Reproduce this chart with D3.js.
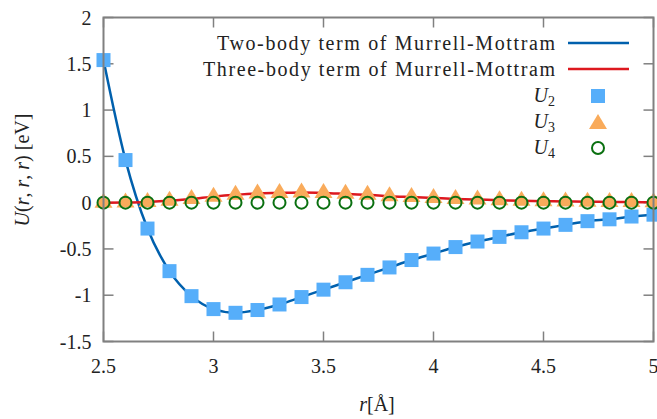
<!DOCTYPE html>
<html>
<head>
<meta charset="utf-8">
<script src="https://cdn.jsdelivr.net/npm/d3@7"></script>
<style>
  html body svg text, html body svg tspan { font-family: "Liberation Serif", "DejaVu Serif", serif !important; }
</style>
</head>
<body style="margin:0; background:#fff">
<script>
// r values (Angstrom)
const rVals = [2.5, 2.6, 2.7, 2.8, 2.9, 3.0, 3.1, 3.2, 3.3, 3.4, 3.5, 3.6, 3.7,
               3.8, 3.9, 4.0, 4.1, 4.2, 4.3, 4.4, 4.5, 4.6, 4.7, 4.8, 4.9, 5.0];
// two-body energies U2 (eV)
const u2 = [1.54, 0.46, -0.28, -0.74, -1.01, -1.15, -1.19, -1.16, -1.10, -1.02, -0.94, -0.86, -0.78,
            -0.70, -0.62, -0.55, -0.48, -0.42, -0.37, -0.32, -0.28, -0.24, -0.20, -0.18, -0.15, -0.13];
// three-body energies U3 (eV)
const u3 = [0.0, 0.002, 0.008, 0.02, 0.04, 0.065, 0.085, 0.10, 0.105, 0.11, 0.105, 0.095, 0.085,
            0.07, 0.06, 0.05, 0.04, 0.033, 0.026, 0.02, 0.016, 0.012, 0.01, 0.008, 0.006, 0.005];
// four-body energies U4 (eV)
const u4 = [0, 0, 0, 0, 0, 0, 0, 0, 0, 0, 0, 0, 0, 0, 0, 0, 0, 0, 0, 0, 0, 0, 0, 0, 0, 0];

const xTicks = [2.5, 3, 3.5, 4, 4.5, 5];
const yTicks = [-1.5, -1, -0.5, 0, 0.5, 1, 1.5, 2];

const width = 657, height = 419;
const margin = {left: 103.5, right: 3.5, top: 17.5, bottom: 77.5};
const fontFam = "Liberation Serif";
const textCol = "#222";

const svg = d3.select("body").append("svg")
    .attr("width", width)
    .attr("height", height);

const x = d3.scaleLinear().domain([2.5, 5]).range([margin.left, width - margin.right]);
const y = d3.scaleLinear().domain([-1.5, 2]).range([height - margin.bottom, margin.top]);

const axisColor = "#808080";
const tickLen = 10;

function txt(parent, xx, yy, size, anchor) {
    return parent.append("text").attr("x", xx).attr("y", yy)
        .attr("font-size", size)
        .attr("font-family", fontFam)
        .attr("fill", textCol).attr("text-anchor", anchor);
}

// ticks (mirrored, pointing inward)
const g = svg.append("g");
xTicks.forEach(t => {
    g.append("line").attr("x1", x(t)).attr("x2", x(t))
        .attr("y1", y(-1.5)).attr("y2", y(-1.5) - tickLen)
        .attr("stroke", axisColor).attr("stroke-width", 1.5);
    g.append("line").attr("x1", x(t)).attr("x2", x(t))
        .attr("y1", y(2)).attr("y2", y(2) + tickLen)
        .attr("stroke", axisColor).attr("stroke-width", 1.5);
    txt(g, x(t), y(-1.5) + 31, 20, "middle").text(t);
});
yTicks.forEach(t => {
    g.append("line").attr("x1", x(2.5)).attr("x2", x(2.5) + tickLen)
        .attr("y1", y(t)).attr("y2", y(t))
        .attr("stroke", axisColor).attr("stroke-width", 1.5);
    g.append("line").attr("x1", x(5)).attr("x2", x(5) - tickLen)
        .attr("y1", y(t)).attr("y2", y(t))
        .attr("stroke", axisColor).attr("stroke-width", 1.5);
    txt(g, x(2.5) - 12, y(t) + 7, 20, "end").text(t);
});

// lines
const line = (arr) => d3.line()
    .x((d, i) => x(rVals[i]))
    .y(d => y(d))
    .curve(d3.curveMonotoneX)(arr);

svg.append("path").attr("d", line(u2))
    .attr("fill", "none").attr("stroke", "#0060ad").attr("stroke-width", 2.5);
svg.append("path").attr("d", line(u3))
    .attr("fill", "none").attr("stroke", "#dd181f").attr("stroke-width", 2.5);

// markers
const sq = 14;
const triPath = "M0,-10L9,5L-9,5Z";
const sqColor = "#56aefa", triColor = "#f9ab5b", circColor = "#0a7010";

svg.append("g").selectAll("rect").data(u2).join("rect")
    .attr("x", (d, i) => x(rVals[i]) - sq / 2)
    .attr("y", d => y(d) - sq / 2)
    .attr("width", sq).attr("height", sq)
    .attr("fill", sqColor);

svg.append("g").selectAll("path").data(u3).join("path")
    .attr("d", triPath)
    .attr("transform", (d, i) => `translate(${x(rVals[i])},${y(d)})`)
    .attr("fill", triColor);

svg.append("g").selectAll("circle").data(u4).join("circle")
    .attr("cx", (d, i) => x(rVals[i]))
    .attr("cy", d => y(d))
    .attr("r", 6)
    .attr("fill", "none")
    .attr("stroke", circColor).attr("stroke-width", 2);

// frame
svg.append("rect")
    .attr("x", x(2.5)).attr("y", y(2))
    .attr("width", x(5) - x(2.5)).attr("height", y(-1.5) - y(2))
    .attr("fill", "none").attr("stroke", axisColor).attr("stroke-width", 2);

// legend
const legX = 555, legSym = 598;
const leg = svg.append("g");
txt(leg, legX, 50, 20, "end").attr("textLength", 338).attr("lengthAdjust", "spacing")
    .text("Two-body term of Murrell-Mottram");
leg.append("line").attr("x1", 568).attr("x2", 629).attr("y1", 43).attr("y2", 43)
    .attr("stroke", "#0060ad").attr("stroke-width", 2.5);
txt(leg, legX, 76, 20, "end").attr("textLength", 352).attr("lengthAdjust", "spacing")
    .text("Three-body term of Murrell-Mottram");
leg.append("line").attr("x1", 568).attr("x2", 629).attr("y1", 69).attr("y2", 69)
    .attr("stroke", "#dd181f").attr("stroke-width", 2.5);

const sub = (yy, n) => {
    const t = txt(leg, legX, yy, 20, "end");
    t.append("tspan").attr("font-style", "italic").text("U");
    t.append("tspan").attr("font-size", 14).attr("dy", 4).text(n);
};
sub(102, "2");
sub(128, "3");
sub(154, "4");
leg.append("rect").attr("x", legSym - sq / 2).attr("y", 96 - sq / 2)
    .attr("width", sq).attr("height", sq).attr("fill", sqColor);
leg.append("path").attr("d", triPath)
    .attr("transform", `translate(${legSym},${124})`).attr("fill", triColor);
leg.append("circle").attr("cx", legSym).attr("cy", 148).attr("r", 6)
    .attr("fill", "none").attr("stroke", circColor).attr("stroke-width", 2);

// axis titles
const yl = txt(svg, 0, 0, 20, "middle")
    .attr("transform", "translate(29,170) rotate(-90)");
yl.append("tspan").attr("font-style", "italic").text("U");
yl.append("tspan").text("(");
yl.append("tspan").attr("font-style", "italic").text("r");
yl.append("tspan").text(", ");
yl.append("tspan").attr("font-style", "italic").text("r");
yl.append("tspan").text(", ");
yl.append("tspan").attr("font-style", "italic").text("r");
yl.append("tspan").text(") [eV]");

const xl = txt(svg, 377, 411, 20, "middle");
xl.append("tspan").attr("font-style", "italic").text("r");
xl.append("tspan").text("[Å]");
</script>
</body>
</html>
